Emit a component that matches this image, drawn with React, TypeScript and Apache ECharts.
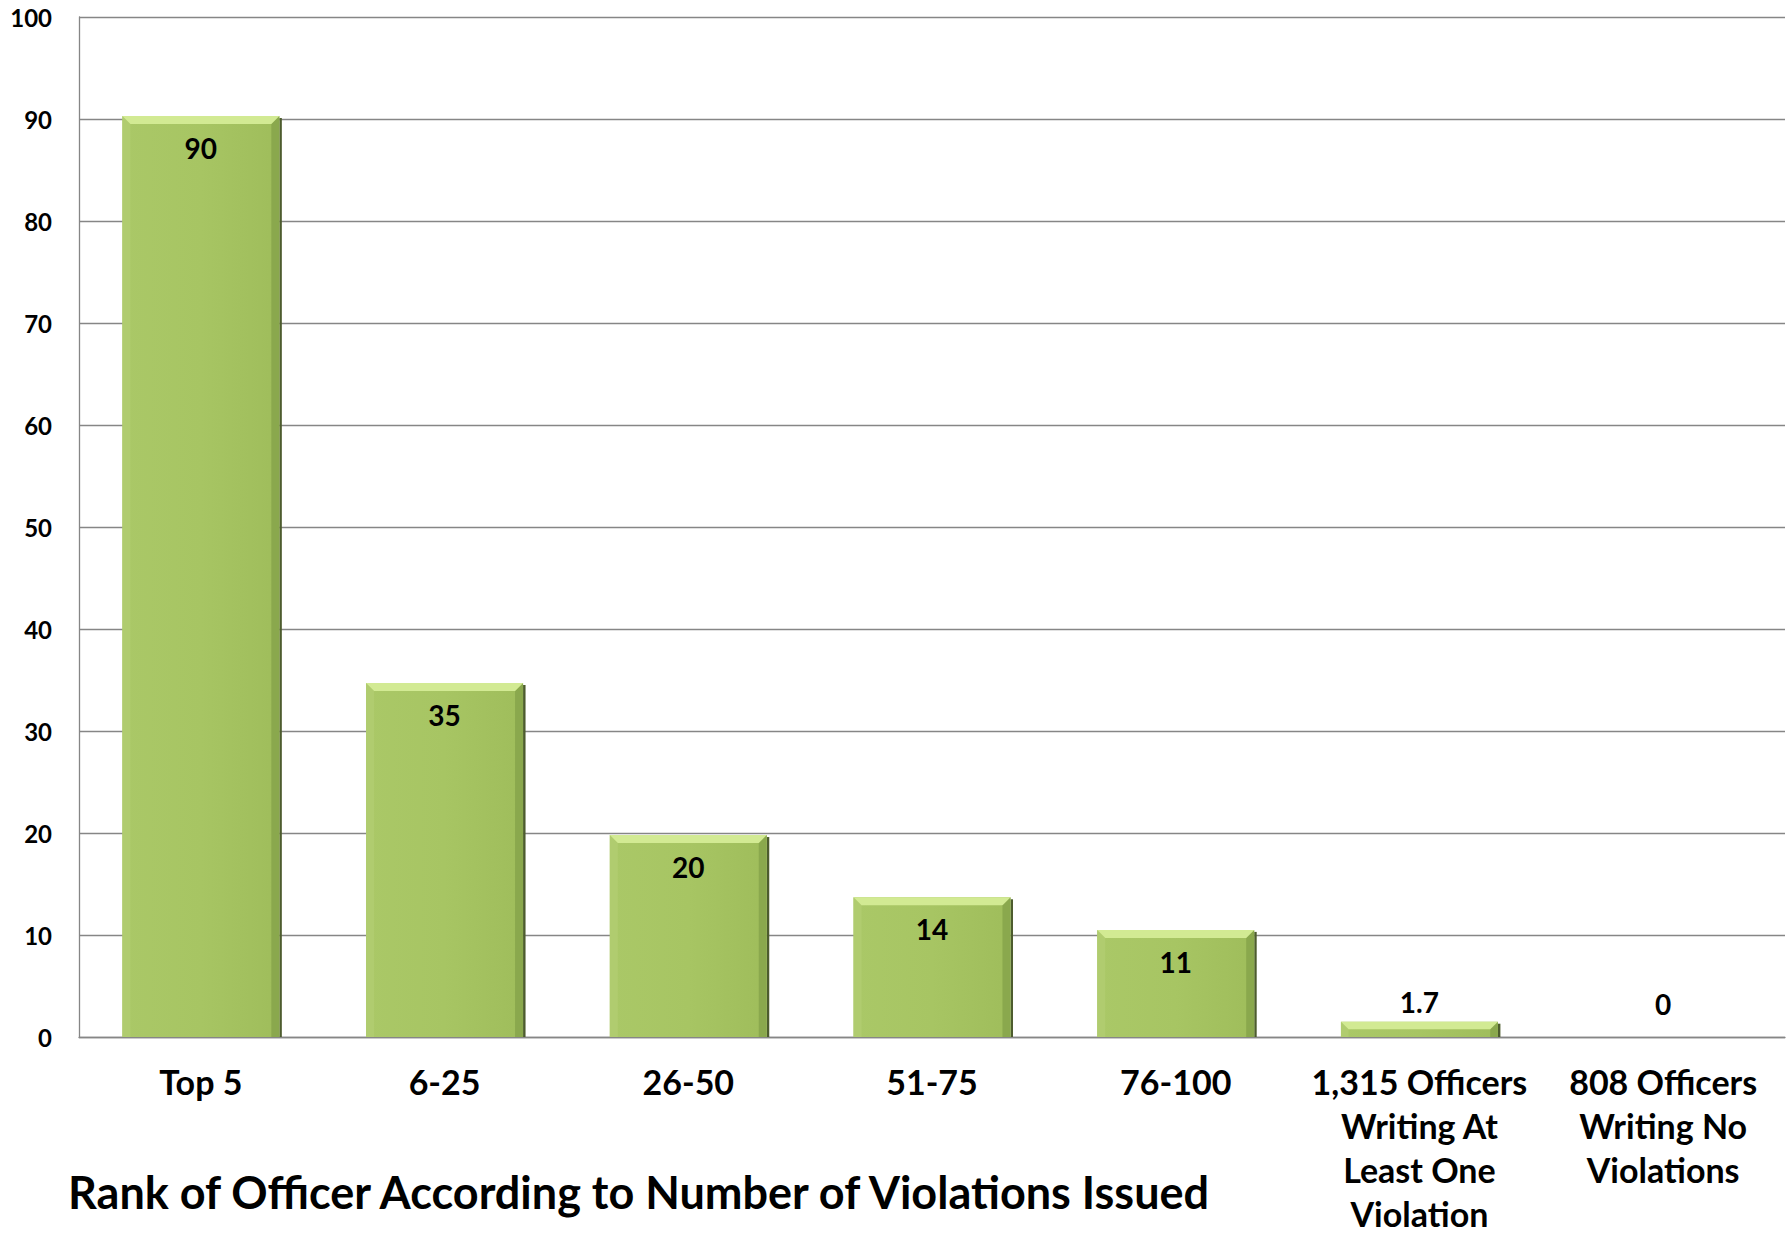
import React, { useEffect, useRef } from "react";
import * as echarts from "echarts";

const categories = [
  "Top 5",
  "6-25",
  "26-50",
  "51-75",
  "76-100",
  "1,315 Officers\nWriting At\nLeast One\nViolation",
  "808 Officers\nWriting No\nViolations",
];
const barValues = [90.3, 34.7, 19.8, 13.7, 10.5, 1.5, 0];
const barLabels = ["90", "35", "20", "14", "11", "1.7", "0"];
const yTicks = { min: 0, max: 100, interval: 10 };
const titleText = "Rank of Officer According to Number of Violations Issued";

const FONT = "Lato";

export default function App() {
  const ref = useRef<HTMLDivElement>(null);

  useEffect(() => {
    document.body.style.margin = "0";
    const chart = echarts.init(ref.current!, null, { renderer: "svg" });

    const renderItem = (params: any, api: any) => {
      const idx = api.value(0);
      const v = api.value(1);
      const top = api.coord([idx, v]);
      const base = api.coord([idx, 0]);
      const w = api.size([1, 0])[0] * 0.644;
      const x0 = top[0] - w / 2;
      const y0 = top[1];
      const h = base[1] - y0;
      const children: any[] = [];
      if (h > 0.5) {
        const b = Math.min(8, h / 2);
        children.push({
          type: "rect",
          shape: { x: x0 + w, y: y0 + 2, width: 2.5, height: h - 2 },
          style: { fill: "#4d5c2e" },
        });
        children.push({
          type: "rect",
          shape: { x: x0, y: y0, width: w, height: h },
          style: {
            fill: new echarts.graphic.LinearGradient(0, 0, 1, 0, [
              { offset: 0, color: "#aac867" },
              { offset: 0.5, color: "#a7c563" },
              { offset: 1, color: "#9fbd5b" },
            ]),
          },
        });
        children.push({
          type: "polygon",
          shape: { points: [[x0, y0], [x0 + b, y0 + b], [x0 + b, base[1]], [x0, base[1]]] },
          style: { fill: "#b0cc6f" },
        });
        children.push({
          type: "polygon",
          shape: { points: [[x0 + w, y0], [x0 + w - b, y0 + b], [x0 + w - b, base[1]], [x0 + w, base[1]]] },
          style: { fill: "#8aa84d" },
        });
        children.push({
          type: "polygon",
          shape: { points: [[x0, y0], [x0 + w, y0], [x0 + w - b, y0 + b], [x0 + b, y0 + b]] },
          style: { fill: "#d2ea93" },
        });
      }
      const inside = v >= 5;
      const ly = inside ? y0 + 32 : Math.min(y0 - 20, base[1] - 33);
      children.push({
        type: "text",
        x: top[0],
        y: ly,
        style: {
          text: barLabels[params.dataIndex],
          fill: "#000",
          font: `bold 28px ${FONT}`,
          align: "center",
          verticalAlign: "middle",
        },
      });
      return { type: "group", children };
    };

    chart.setOption({
      animation: false,
      backgroundColor: "#ffffff",
      title: {
        text: titleText,
        left: 68,
        top: 1169,
        padding: 0,
        textStyle: { fontFamily: FONT, fontWeight: "bold", fontSize: 45, color: "#000" },
      },
      grid: { left: 79, right: 2, top: 17, bottom: 198, containLabel: false, outerBoundsMode: "none" },
      xAxis: {
        type: "category",
        data: categories,
        axisLine: { show: true, lineStyle: { color: "#868686", width: 1.3 } },
        axisTick: { show: false },
        axisLabel: {
          interval: 0,
          margin: 22,
          color: "#000",
          fontFamily: FONT,
          fontWeight: "bold",
          fontSize: 34,
          lineHeight: 44,
          align: "center",
        },
      },
      yAxis: {
        type: "value",
        min: yTicks.min,
        max: yTicks.max,
        interval: yTicks.interval,
        axisLine: { show: true, lineStyle: { color: "#868686", width: 1.3 } },
        axisTick: { show: false },
        splitLine: { show: true, lineStyle: { color: "#868686", width: 1.3 } },
        axisLabel: {
          margin: 27,
          color: "#000",
          fontFamily: FONT,
          fontWeight: "bold",
          fontSize: 24,
        },
      },
      series: [
        {
          type: "custom",
          renderItem,
          data: barValues.map((v, i) => [i, v]),
          encode: { x: 0, y: 1 },
          z: 3,
        },
      ],
    });

    return () => chart.dispose();
  }, []);

  return <div ref={ref} style={{ width: 1787, height: 1235 }} />;
}
